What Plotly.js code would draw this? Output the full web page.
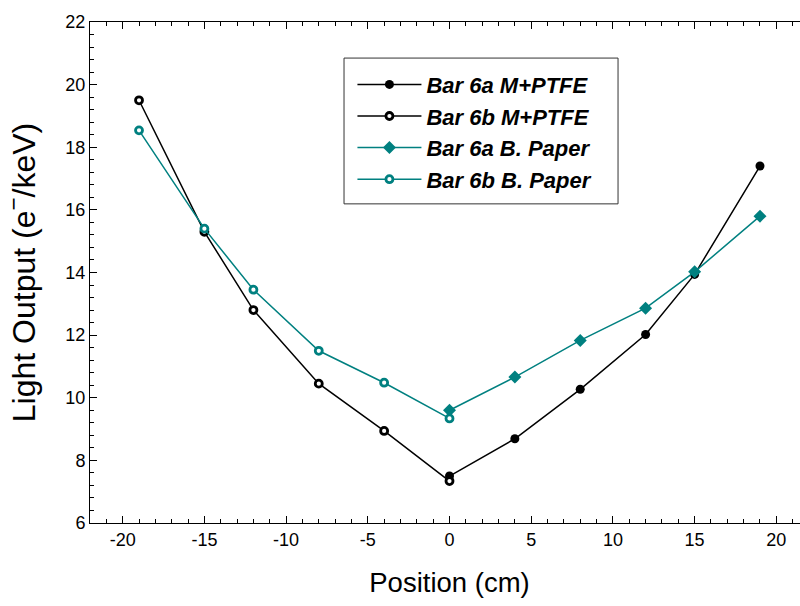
<!DOCTYPE html>
<html>
<head>
<meta charset="utf-8">
<script src="https://cdn.plot.ly/plotly-3.0.1.min.js"></script>
<style>
  html, body { margin: 0; padding: 0; overflow: hidden; background: #fff; }
  #chart { width: 820px; height: 606px; }
</style>
</head>
<body>
<div id="chart"></div>
<script>
// Light output along the bar, measured from each end
const posA = [0, 4, 8, 12, 15, 19];          // Bar 6a positions (cm)
const posB = [-19, -15, -12, -8, -4, 0];     // Bar 6b positions (cm)

const ptfe6a  = [7.5, 8.69, 10.27, 12.02, 13.94, 17.4];
const ptfe6b  = [19.5, 15.3, 12.8, 10.45, 8.94, 7.34];
const paper6a = [9.6, 10.66, 11.83, 12.86, 14.02, 15.8];
const paper6b = [18.54, 15.4, 13.45, 11.5, 10.48, 9.34];

const names = ['Bar 6a M+PTFE', 'Bar 6b M+PTFE', 'Bar 6a B. Paper', 'Bar 6b B. Paper'];

// x tick labels use a plain hyphen for negatives
const xTickVals = [-20, -15, -10, -5, 0, 5, 10, 15, 20];
const xTickText = ['-20', '-15', '-10', '-5', '0', '5', '10', '15', '20'];

const BLACK = '#000000';
const TEAL = '#008080';
const FONT = 'Liberation Sans, Arial, sans-serif';

const traces = [
  {
    x: posA, y: ptfe6a, name: names[0], mode: 'lines+markers',
    line: { color: BLACK, width: 1.5 },
    marker: { symbol: 'circle', size: 9, color: BLACK }
  },
  {
    x: posB, y: ptfe6b, name: names[1], mode: 'lines+markers',
    line: { color: BLACK, width: 1.5 },
    marker: { symbol: 'circle', size: 7, color: '#ffffff', line: { color: BLACK, width: 2.8 } }
  },
  {
    x: posA, y: paper6a, name: names[2], mode: 'lines+markers',
    line: { color: TEAL, width: 1.5 },
    marker: { symbol: 'diamond', size: 10, color: TEAL }
  },
  {
    x: posB, y: paper6b, name: names[3], mode: 'lines+markers',
    line: { color: TEAL, width: 1.5 },
    marker: { symbol: 'circle', size: 7, color: '#ffffff', line: { color: TEAL, width: 2.8 } }
  }
];

const axisCommon = {
  showgrid: false, zeroline: false,
  showline: true, linecolor: BLACK, linewidth: 1,
  mirror: 'allticks',
  ticks: 'inside', ticklen: 7, tickwidth: 1, tickcolor: BLACK,
  tickfont: { family: FONT, size: 18, color: BLACK }
};

const layout = {
  width: 820, height: 606,
  margin: { l: 90, r: 11, t: 22, b: 82.5 },
  paper_bgcolor: '#ffffff', plot_bgcolor: '#ffffff',
  showlegend: true,
  xaxis: Object.assign({}, axisCommon, {
    range: [-22, 22], tickmode: 'array', tickvals: xTickVals, ticktext: xTickText,
    minor: { dtick: 1, ticks: 'inside', ticklen: 4, tickwidth: 1, tickcolor: BLACK },
    title: { text: 'Position (cm)', standoff: 24,
             font: { family: FONT, size: 27.5, color: BLACK } }
  }),
  yaxis: Object.assign({}, axisCommon, {
    range: [6, 22], tick0: 0, dtick: 2,
    minor: { dtick: 0.4, ticks: 'inside', ticklen: 4, tickwidth: 1, tickcolor: BLACK },
    title: { text: 'Light Output (e<sup>\u2212</sup>/keV)', standoff: 20,
             font: { family: FONT, size: 32, color: BLACK } }
  }),
  legend: {
    x: 0.365, y: 0.917, xanchor: 'left', yanchor: 'top',
    bgcolor: 'rgba(0,0,0,0)', borderwidth: 0,
    itemwidth: 64, tracegroupgap: 0,
    font: { family: FONT, size: 22, color: BLACK, weight: 'bold', style: 'italic' }
  },
  shapes: [{
    type: 'rect', xref: 'paper', yref: 'paper',
    x0: 0.3533, x1: 0.7344, y0: 0.637, y1: 0.928,
    line: { color: '#333333', width: 1 }, fillcolor: 'rgba(0,0,0,0)', layer: 'below'
  }]
};

Plotly.newPlot('chart', traces, layout, { displayModeBar: false, staticPlot: true });
</script>
</body>
</html>
